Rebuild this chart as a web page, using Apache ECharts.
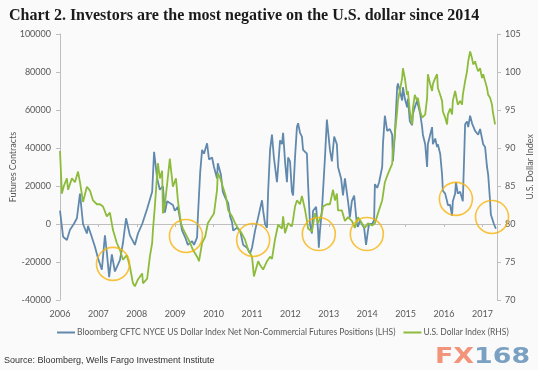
<!DOCTYPE html>
<html>
<head>
<meta charset="utf-8">
<script src="https://cdn.jsdelivr.net/npm/echarts@6/dist/echarts.min.js"></script>
<style>
html,body{margin:0;padding:0;background:#fafafa;}
#c{width:538px;height:370px;}
</style>
</head>
<body>
<div id="c"></div>
<script>
// ---- Data (decimal years) ----
const yearTicks = [2006, 2007, 2008, 2009, 2010, 2011, 2012, 2013, 2014, 2015, 2016, 2017];

const cftcDates = [2006.00,2006.08,2006.18,2006.26,2006.36,2006.44,2006.52,2006.60,2006.70,2006.73,2006.83,2006.91,2006.99,2007.09,2007.17,2007.22,2007.28,2007.35,2007.43,2007.56,2007.64,2007.72,2007.82,2007.90,2007.95,2008.03,2008.14,2008.27,2008.32,2008.40,2008.45,2008.53,2008.60,2008.68,2008.73,2008.79,2008.86,2008.94,2008.99,2009.07,2009.13,2009.18,2009.26,2009.33,2009.44,2009.49,2009.57,2009.59,2009.65,2009.70,2009.75,2009.83,2009.88,2009.96,2010.01,2010.09,2010.11,2010.19,2010.24,2010.30,2010.38,2010.43,2010.48,2010.51,2010.61,2010.69,2010.77,2010.87,2010.95,2011.00,2011.08,2011.16,2011.26,2011.29,2011.34,2011.39,2011.42,2011.47,2011.52,2011.57,2011.65,2011.68,2011.73,2011.78,2011.81,2011.86,2011.91,2011.94,2011.99,2012.04,2012.07,2012.12,2012.17,2012.20,2012.25,2012.30,2012.33,2012.43,2012.46,2012.51,2012.56,2012.59,2012.67,2012.72,2012.74,2012.77,2012.82,2012.85,2012.90,2012.95,2012.98,2013.03,2013.08,2013.14,2013.21,2013.24,2013.32,2013.37,2013.42,2013.50,2013.55,2013.60,2013.66,2013.73,2013.76,2013.81,2013.86,2013.92,2013.97,2014.02,2014.05,2014.13,2014.18,2014.20,2014.26,2014.31,2014.39,2014.41,2014.46,2014.52,2014.59,2014.65,2014.67,2014.72,2014.78,2014.80,2014.85,2014.91,2014.93,2014.98,2015.04,2015.06,2015.11,2015.17,2015.19,2015.24,2015.30,2015.32,2015.38,2015.43,2015.45,2015.51,2015.56,2015.58,2015.64,2015.69,2015.71,2015.77,2015.82,2015.84,2015.90,2015.95,2015.97,2016.03,2016.08,2016.10,2016.16,2016.21,2016.23,2016.29,2016.31,2016.36,2016.42,2016.47,2016.49,2016.55,2016.60,2016.63,2016.68,2016.73,2016.76,2016.81,2016.89,2016.94,2016.99,2017.02,2017.07,2017.12,2017.15,2017.20,2017.22,2017.25,2017.30,2017.35];
const cftcValues = [7000,-6700,-8400,-3000,0,3000,16000,0,-5000,-1000,-7000,-12000,-18000,-24000,-6000,-15000,-28000,-16000,-25000,-19000,-10000,3000,-6000,-9000,-11000,-5000,0,8000,7000,17000,38000,24000,18000,20000,6000,12000,11000,10000,7000,9000,2000,-3500,-7000,-11000,-9000,-11000,-7000,3500,27000,39000,37000,42500,34000,35000,30000,24000,32000,26000,17000,14000,11000,4000,1000,-3500,-2000,-3500,-11000,-12500,-15500,-12500,-3500,3500,12500,7000,0,-2000,17000,39000,47000,35000,22000,30000,44000,42000,48000,33000,22000,35000,33000,17000,15000,35000,51000,53000,48000,46000,39000,37000,21000,0,-5000,7000,9000,-3500,-12500,-3500,7000,8000,35000,55000,54000,39000,33000,46000,42000,30000,24000,15000,24000,12000,3500,12000,15000,0,-1500,2000,0,-2000,-11000,-3500,0,0,2000,21000,19000,22000,30000,42000,57000,49000,50000,47000,33000,47000,72000,74000,70000,65000,72000,66000,61500,66000,54000,52000,58000,61500,65000,63000,58000,51000,47000,42000,30000,42000,47000,51000,42000,45000,40500,42000,37000,26000,17500,16000,12000,10000,10000,4400,12000,16000,22000,16000,17000,16000,12000,52500,54000,51000,57000,53000,52000,49000,47000,50000,45000,42000,40500,30000,26000,12000,5000,4000,0,-2500];

const dxyDates = [2006.00,2006.05,2006.10,2006.18,2006.21,2006.31,2006.39,2006.47,2006.52,2006.60,2006.70,2006.78,2006.86,2006.96,2007.04,2007.12,2007.22,2007.30,2007.38,2007.48,2007.56,2007.64,2007.74,2007.82,2007.90,2007.95,2008.03,2008.14,2008.16,2008.27,2008.34,2008.40,2008.42,2008.47,2008.53,2008.55,2008.60,2008.66,2008.68,2008.73,2008.81,2008.86,2008.89,2008.94,2009.02,2009.07,2009.15,2009.20,2009.31,2009.39,2009.46,2009.57,2009.62,2009.70,2009.78,2009.85,2009.96,2010.01,2010.09,2010.11,2010.19,2010.24,2010.32,2010.38,2010.48,2010.56,2010.64,2010.74,2010.82,2010.90,2011.00,2011.05,2011.16,2011.21,2011.29,2011.39,2011.47,2011.52,2011.60,2011.68,2011.78,2011.81,2011.86,2011.94,2012.04,2012.07,2012.12,2012.17,2012.25,2012.30,2012.38,2012.43,2012.46,2012.56,2012.64,2012.72,2012.82,2012.85,2012.95,2013.03,2013.11,2013.16,2013.21,2013.24,2013.34,2013.42,2013.50,2013.60,2013.68,2013.76,2013.86,2013.94,2014.02,2014.13,2014.20,2014.28,2014.39,2014.46,2014.54,2014.65,2014.67,2014.72,2014.78,2014.80,2014.85,2014.91,2014.93,2014.98,2015.04,2015.06,2015.11,2015.17,2015.19,2015.24,2015.30,2015.32,2015.38,2015.43,2015.51,2015.56,2015.58,2015.64,2015.69,2015.71,2015.77,2015.82,2015.84,2015.90,2015.95,2015.97,2016.03,2016.08,2016.10,2016.16,2016.21,2016.23,2016.29,2016.34,2016.36,2016.42,2016.47,2016.49,2016.55,2016.60,2016.63,2016.68,2016.73,2016.76,2016.81,2016.86,2016.89,2016.94,2016.99,2017.02,2017.07,2017.12,2017.15,2017.20,2017.25,2017.27,2017.33];
const dxyValues = [89.6,84,85,86,84.5,86,85.5,86.9,85.5,82.9,84.9,84.4,83.1,82.6,82.6,82.3,81,81.5,79.2,77.5,76.6,75.3,75.9,74.4,72.2,71.8,72.7,73.5,72.2,72.8,75.7,77.5,79.2,82.3,86.6,88,86,87,81.4,82.5,86.2,88.6,88.4,84.9,86,83.1,80.1,79.4,78.3,77.5,76.6,75.7,75.1,77.5,78.3,80.1,81,81.4,84.5,86.7,85.8,84.9,83.6,81.8,81,80.1,79.4,78.7,77.9,76.6,75.7,73.1,75.1,74.6,74,75.1,75.7,75.4,78,79.9,79.4,81,78.8,80.1,79.7,80.6,82.3,83.1,82.6,83.7,81.9,80.4,79.4,79,81.4,80.1,81.4,82.3,82.6,82.6,84.5,83.1,84,81.8,81.8,80.4,80.9,80.4,79.5,80.9,80.1,79.5,80.1,79.8,80.1,81.4,83.1,85.5,86.6,87.9,89.6,91.8,94.8,96.2,96,99.2,100.5,99.2,97,97.5,94.8,93.1,95.2,97,96.2,96.6,94.8,94,94.4,96.6,99.7,98.4,97.5,98.4,99.2,99.7,97.9,97,96.2,94.8,94,93.1,94.4,95.2,94.4,96.2,97.5,96.2,95.7,96.2,95.7,97,98.8,100.1,101.4,102.7,101.8,101,101.4,100.5,100.1,100.5,99.2,99.7,98.8,97.9,97,96.6,95.7,94.8,93.1];

// annotation circles: [decimal year, futures contracts]
const circleMarks = [[2007.38,-21000],[2009.28,-6300],[2011.03,-8400],[2012.74,-5300],[2013.99,-5300],[2016.31,13200],[2017.25,3700]];

const seriesNames = ['Bloomberg CFTC NYCE US Dollar Index Net Non-Commercial Futures Positions (LHS)', 'U.S. Dollar Index (RHS)'];
const titleText = 'Chart 2. Investors are the most negative on the U.S. dollar since 2014';
const sourceText = 'Source: Bloomberg, Wells Fargo Investment Institute';

const zip = (a, b) => a.map((d, i) => [d, b[i]]);

const chart = echarts.init(document.getElementById('c'), null, {renderer: 'canvas'});
const lblFont = 'Lato, "Liberation Sans", sans-serif';
const axisGrey = '#bfbfbf';
const txtGrey = '#595959';
const xMin = yearTicks[0], xMax = 2017.38;

chart.setOption({
  backgroundColor: '#fafafa',
  animation: false,
  title: {
    text: titleText, left: 4, top: 3,
    textStyle: {fontFamily: '"Liberation Serif", serif', fontWeight: 'bold', fontSize: 16, color: '#1a1a1a'}
  },
  legend: {
    data: seriesNames, left: 52, top: 323, itemWidth: 18, itemHeight: 2, itemGap: 8, icon: 'rect',
    textStyle: {fontFamily: lblFont, fontSize: 8.5, color: txtGrey, padding: [0, 0, 0, -3]}
  },
  grid: {left: 60, right: 41, top: 34, bottom: 70, containLabel: false, outerBoundsMode: 'none'},
  xAxis: [{
    type: 'value', min: xMin, max: xMax, interval: 1, position: 'bottom',
    axisLine: {show: false, onZero: false}, axisTick: {show: false}, splitLine: {show: false},
    axisLabel: {margin: 10, fontFamily: lblFont, fontSize: 9, color: txtGrey, showMaxLabel: false,
      formatter: v => (Number.isInteger(v) ? String(v) : '')}
  }, {
    type: 'value', min: xMin, max: xMax, interval: 1, position: 'top',
    axisLine: {show: true, onZero: true, lineStyle: {color: axisGrey, width: 1}},
    axisTick: {show: true, inside: true, length: 3, lineStyle: {color: axisGrey}},
    axisLabel: {show: false}, splitLine: {show: false}
  }],
  yAxis: [{
    type: 'value', min: -40000, max: 100000, interval: 20000, position: 'left',
    name: 'Futures Contracts', nameLocation: 'middle', nameGap: 42, nameRotate: 90, nameMoveOverlap: false,
    nameTextStyle: {fontFamily: lblFont, fontSize: 9, color: txtGrey},
    axisLine: {show: true, lineStyle: {color: axisGrey}},
    axisTick: {show: true, length: 4, lineStyle: {color: axisGrey}},
    axisLabel: {margin: 9, fontFamily: lblFont, fontSize: 9, color: txtGrey, formatter: v => String(v)},
    splitLine: {show: false}
  }, {
    type: 'value', min: 70, max: 105, interval: 5, position: 'right',
    name: 'U.S. Dollar Index', nameLocation: 'middle', nameGap: 29, nameRotate: 90, nameMoveOverlap: false,
    nameTextStyle: {fontFamily: lblFont, fontSize: 9, color: txtGrey},
    axisLine: {show: true, lineStyle: {color: axisGrey}},
    axisTick: {show: true, length: 4, lineStyle: {color: axisGrey}},
    axisLabel: {margin: 8, fontFamily: lblFont, fontSize: 9, color: txtGrey},
    splitLine: {show: false}
  }],
  series: [{
    name: seriesNames[0], type: 'line', xAxisIndex: 0, yAxisIndex: 0,
    data: zip(cftcDates, cftcValues), showSymbol: false, symbol: 'none',
    lineStyle: {color: '#6189ad', width: 1.8}, itemStyle: {color: '#6189ad'}, z: 2
  }, {
    name: seriesNames[1], type: 'line', xAxisIndex: 0, yAxisIndex: 1,
    data: zip(dxyDates, dxyValues), showSymbol: false, symbol: 'none',
    lineStyle: {color: '#8dbb3c', width: 1.8}, itemStyle: {color: '#8dbb3c'}, z: 3
  }, {
    name: 'circles', type: 'scatter', xAxisIndex: 0, yAxisIndex: 0,
    data: circleMarks, symbol: 'circle', symbolSize: 33, silent: true,
    itemStyle: {color: 'rgba(0,0,0,0)', borderColor: '#f6b40e', borderWidth: 1.6}, z: 4
  }],
  graphic: [{
    type: 'text', left: 4, top: 356,
    style: {text: sourceText, font: '9px "Liberation Sans Narrow", "Liberation Sans", sans-serif', fill: '#333'}
  }, {
    type: 'group', left: 435, top: 346, scaleX: 1.22,
    children: [{
      type: 'text', left: 0, top: 0,
      style: {
        text: '{a|FX}{b|168}',
        rich: {
          a: {font: 'bold 22px "DejaVu Sans", sans-serif', fill: '#f29479'},
          b: {font: 'bold 22px "DejaVu Sans", sans-serif', fill: '#7aa0c2'}
        }
      }
    }]
  }]
});
</script>
</body>
</html>
